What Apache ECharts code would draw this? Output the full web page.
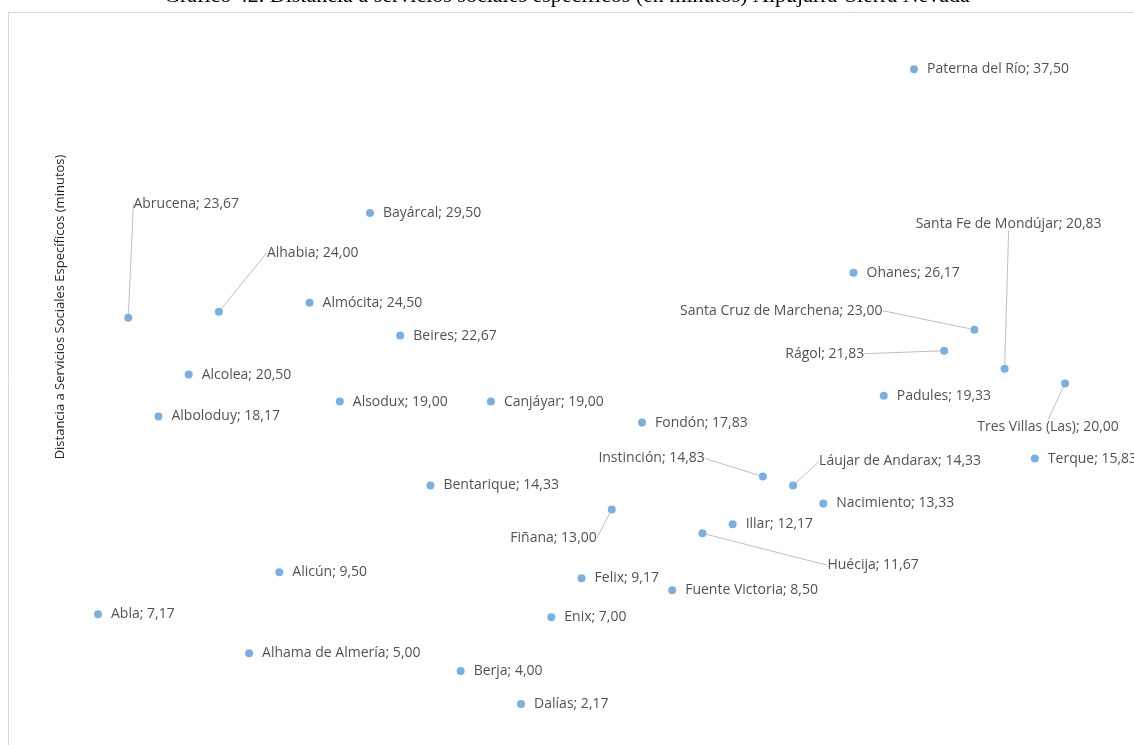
<!DOCTYPE html>
<html>
<head>
<meta charset="utf-8">
<script src="https://cdn.jsdelivr.net/npm/echarts@6/dist/echarts.min.js"></script>
<style>
html,body{margin:0;padding:0;background:#fff;}
#chart{width:1134px;height:745px;}
</style>
</head>
<body>
<div id="chart"></div>
<script>
const titleText = 'Gráfico 42. Distancia a servicios sociales específicos (en minutos) Alpujarra-Sierra Nevada';
const yAxisTitle = 'Distancia a Servicios Sociales Específicos (minutos)';
const municipios = ['Abla','Abrucena','Alboloduy','Alcolea','Alhabia','Alhama de Almería','Alicún','Almócita','Alsodux','Bayárcal','Beires','Bentarique','Berja','Canjáyar','Dalías','Enix','Felix','Fiñana','Fondón','Fuente Victoria','Huécija','Illar','Instinción','Láujar de Andarax','Nacimiento','Ohanes','Padules','Paterna del Río','Rágol','Santa Cruz de Marchena','Santa Fe de Mondújar','Terque','Tres Villas (Las)'];
const minutos = [7.17,23.67,18.17,20.50,24.00,5.00,9.50,24.50,19.00,29.50,22.67,14.33,4.00,19.00,2.17,7.00,9.17,13.00,17.83,8.50,11.67,12.17,14.83,14.33,13.33,26.17,19.33,37.50,21.83,23.00,20.83,15.83,20.00];

// label displacement (style) for labels with leader lines: [position, dx, dy]
const labelMoves = {
  'Abrucena': ['top', 58, -94],
  'Alhabia': ['right', 35, -59],
  'Santa Fe de Mondújar': ['top', 4, -125],
  'Santa Cruz de Marchena': ['left', -79, -19],
  'Rágol': ['left', -67, 3],
  'Tres Villas (Las)': ['bottom', -17, 23],
  'Instinción': ['left', -45, -18],
  'Láujar de Andarax': ['right', 13, -24],
  'Fiñana': ['left', -2, 29],
  'Huécija': ['right', 112, 32]
};

const fmt = v => v.toFixed(2).replace('.', ',');

const seriesData = municipios.map((n, i) => {
  const item = { name: n, value: [i + 1, minutos[i]] };
  const mv = labelMoves[n];
  if (mv) {
    item.label = { position: mv[0] };
    item.labelLine = { show: true };
  }
  return item;
});

const chart = echarts.init(document.getElementById('chart'), null, { renderer: 'canvas' });
chart.setOption({
  animation: false,
  backgroundColor: '#ffffff',
  grid: { left: 67.8, right: 8.5, top: 24.2, bottom: 2, containLabel: false },
  xAxis: { type: 'value', min: 0, max: 35, show: false },
  yAxis: { type: 'value', min: 0, max: 40, show: false },
  graphic: [
    { type: 'rect', z: -10, shape: { x: 8.5, y: 12.5, width: 1300, height: 900 },
      style: { fill: 'none', stroke: '#d9d9d9', lineWidth: 1 } },
    { type: 'text', left: 'center', top: -15,
      style: { text: titleText, font: '22px "Liberation Serif", "Times New Roman", serif', fill: '#000' } },
    { type: 'text', x: 60, y: 307, rotation: Math.PI / 2,
      style: { text: yAxisTitle, font: '13px "Open Sans", sans-serif', fill: '#262626', align: 'center', verticalAlign: 'middle' } }
  ],
  series: [{
    type: 'scatter',
    symbol: 'circle',
    symbolSize: 8,
    itemStyle: { color: '#5b9bd5' },
    data: seriesData,
    label: {
      show: true,
      position: 'right',
      distance: 9,
      color: '#262626',
      fontFamily: '"Open Sans", sans-serif',
      fontSize: 14,
      formatter: p => p.name + '; ' + fmt(p.value[1])
    },
    labelLine: { show: false, lineStyle: { color: '#bfbfbf', width: 1 } },
    labelLayout: function (params) {
      const mv = labelMoves[municipios[params.dataIndex]];
      if (mv) return { dx: mv[1], dy: mv[2] };
      return null;
    }
  }]
});
</script>
</body>
</html>
